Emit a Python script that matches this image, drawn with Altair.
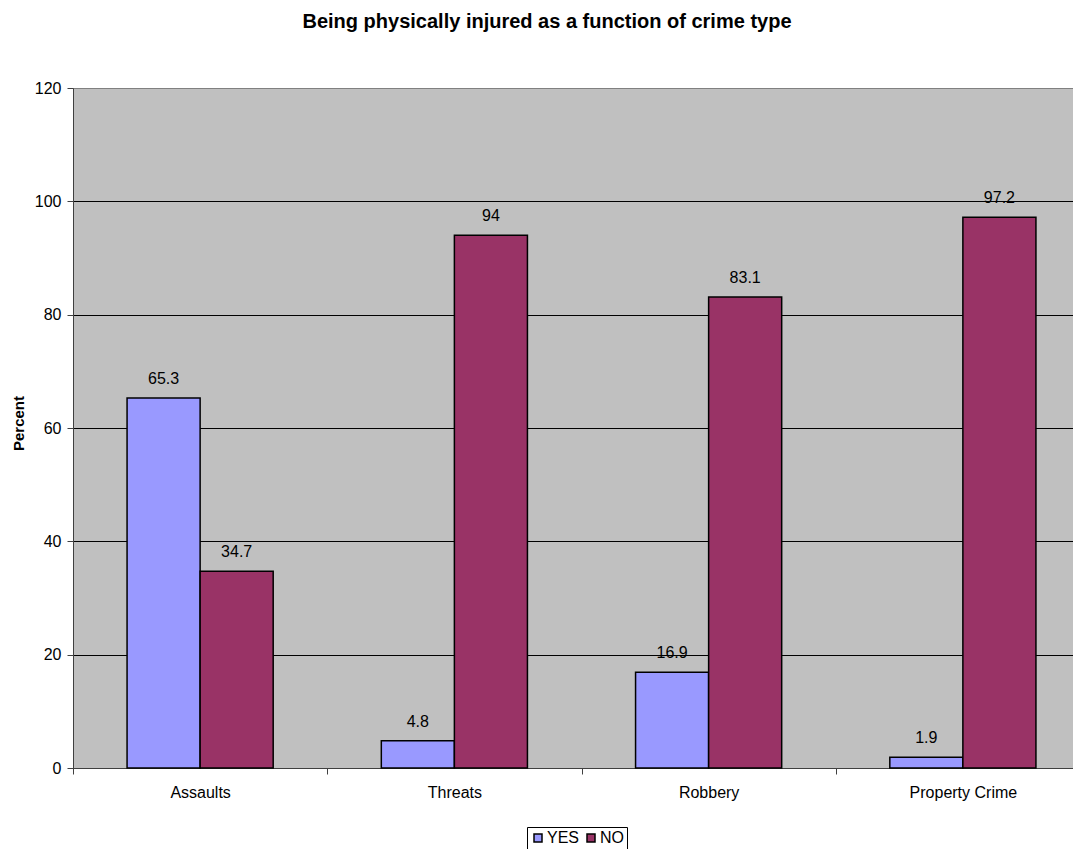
import altair as alt
import pandas as pd

categories = ["Assaults", "Threats", "Robbery", "Property Crime"]
responses = ["YES", "NO"]
yes_values = [65.3, 4.8, 16.9, 1.9]
no_values = [34.7, 94, 83.1, 97.2]
y_ticks = [0, 20, 40, 60, 80, 100, 120]

rows = []
for c, y, n in zip(categories, yes_values, no_values):
    rows.append({"crime": c, "resp": "YES", "value": y})
    rows.append({"crime": c, "resp": "NO", "value": n})
df = pd.DataFrame(rows)

FONT = "Liberation Sans"

x_enc = alt.X(
    "crime:N",
    sort=categories,
    title=None,
    scale=alt.Scale(range=[0, 1017], paddingInner=0, paddingOuter=0),
    axis=alt.Axis(
        labelAngle=0, tickBand="extent", ticks=True, tickSize=6,
        labelPadding=10, labelFontSize=16, labelFont=FONT, labelColor="black",
        labelBaseline="top",
        domainColor="#404040", tickColor="#404040", grid=False,
    ),
)
xoff_enc = alt.XOffset(
    "resp:N", sort=responses,
    scale=alt.Scale(paddingOuter=0.74, paddingInner=0),
)
y_enc = alt.Y(
    "value:Q",
    scale=alt.Scale(domain=[0, 120], nice=False),
    axis=alt.Axis(
        values=y_ticks, tickSize=6, labelFontSize=16, labelFont=FONT,
        labelColor="black", labelPadding=6, domainColor="#404040",
        tickColor="#404040",
        gridColor={"condition": {"test": "datum.value == 120", "value": "#808080"}, "value": "black"},
        gridWidth=1, gridOpacity=1,
        title="Percent", titleFont=FONT, titleFontSize=15, titleFontWeight="bold",
        titleX=-55, titleY=335, titleAngle=270, titleAlign="center",
        titleBaseline="middle", titleColor="black",
    ),
)

color_enc = alt.Color(
    "resp:N",
    sort=responses,
    scale=alt.Scale(domain=responses, range=["#9999FF", "#993366"]),
    legend=alt.Legend(
        title=None, orient="none", direction="horizontal",
        legendX=454, legendY=739, symbolType="square", symbolSize=64,
        symbolStrokeColor="black", symbolStrokeWidth=1.5, symbolOpacity=1,
        labelFontSize=16, labelFont=FONT, labelColor="black",
        strokeColor="black", padding=3, columnPadding=3, labelOffset=1,
    ),
)

bars = alt.Chart(df).mark_bar(stroke="black", strokeWidth=1.5).encode(
    x=x_enc, xOffset=xoff_enc, y=y_enc, color=color_enc
)
labels = alt.Chart(df).mark_text(
    baseline="alphabetic", dy=-14, fontSize=16, font=FONT, color="black"
).encode(x=x_enc, xOffset=xoff_enc, y=y_enc, text=alt.Text("value:Q"))

chart = (
    alt.layer(bars, labels)
    .properties(
        width=1000,
        height=680,
        autosize=alt.AutoSizeParams(type="none"),
        padding={"left": 65, "top": 80, "right": 0, "bottom": 81},
        title=alt.TitleParams(
            "Being physically injured as a function of crime type",
            font=FONT, fontSize=20, fontWeight="bold", color="black",
            anchor="middle", dx=-26, offset=48,
        ),
    )
    .configure_view(fill="#C0C0C0", stroke="#808080", strokeWidth=1)
)

chart.save("out.html", embed_options={"renderer": "svg", "actions": False})
